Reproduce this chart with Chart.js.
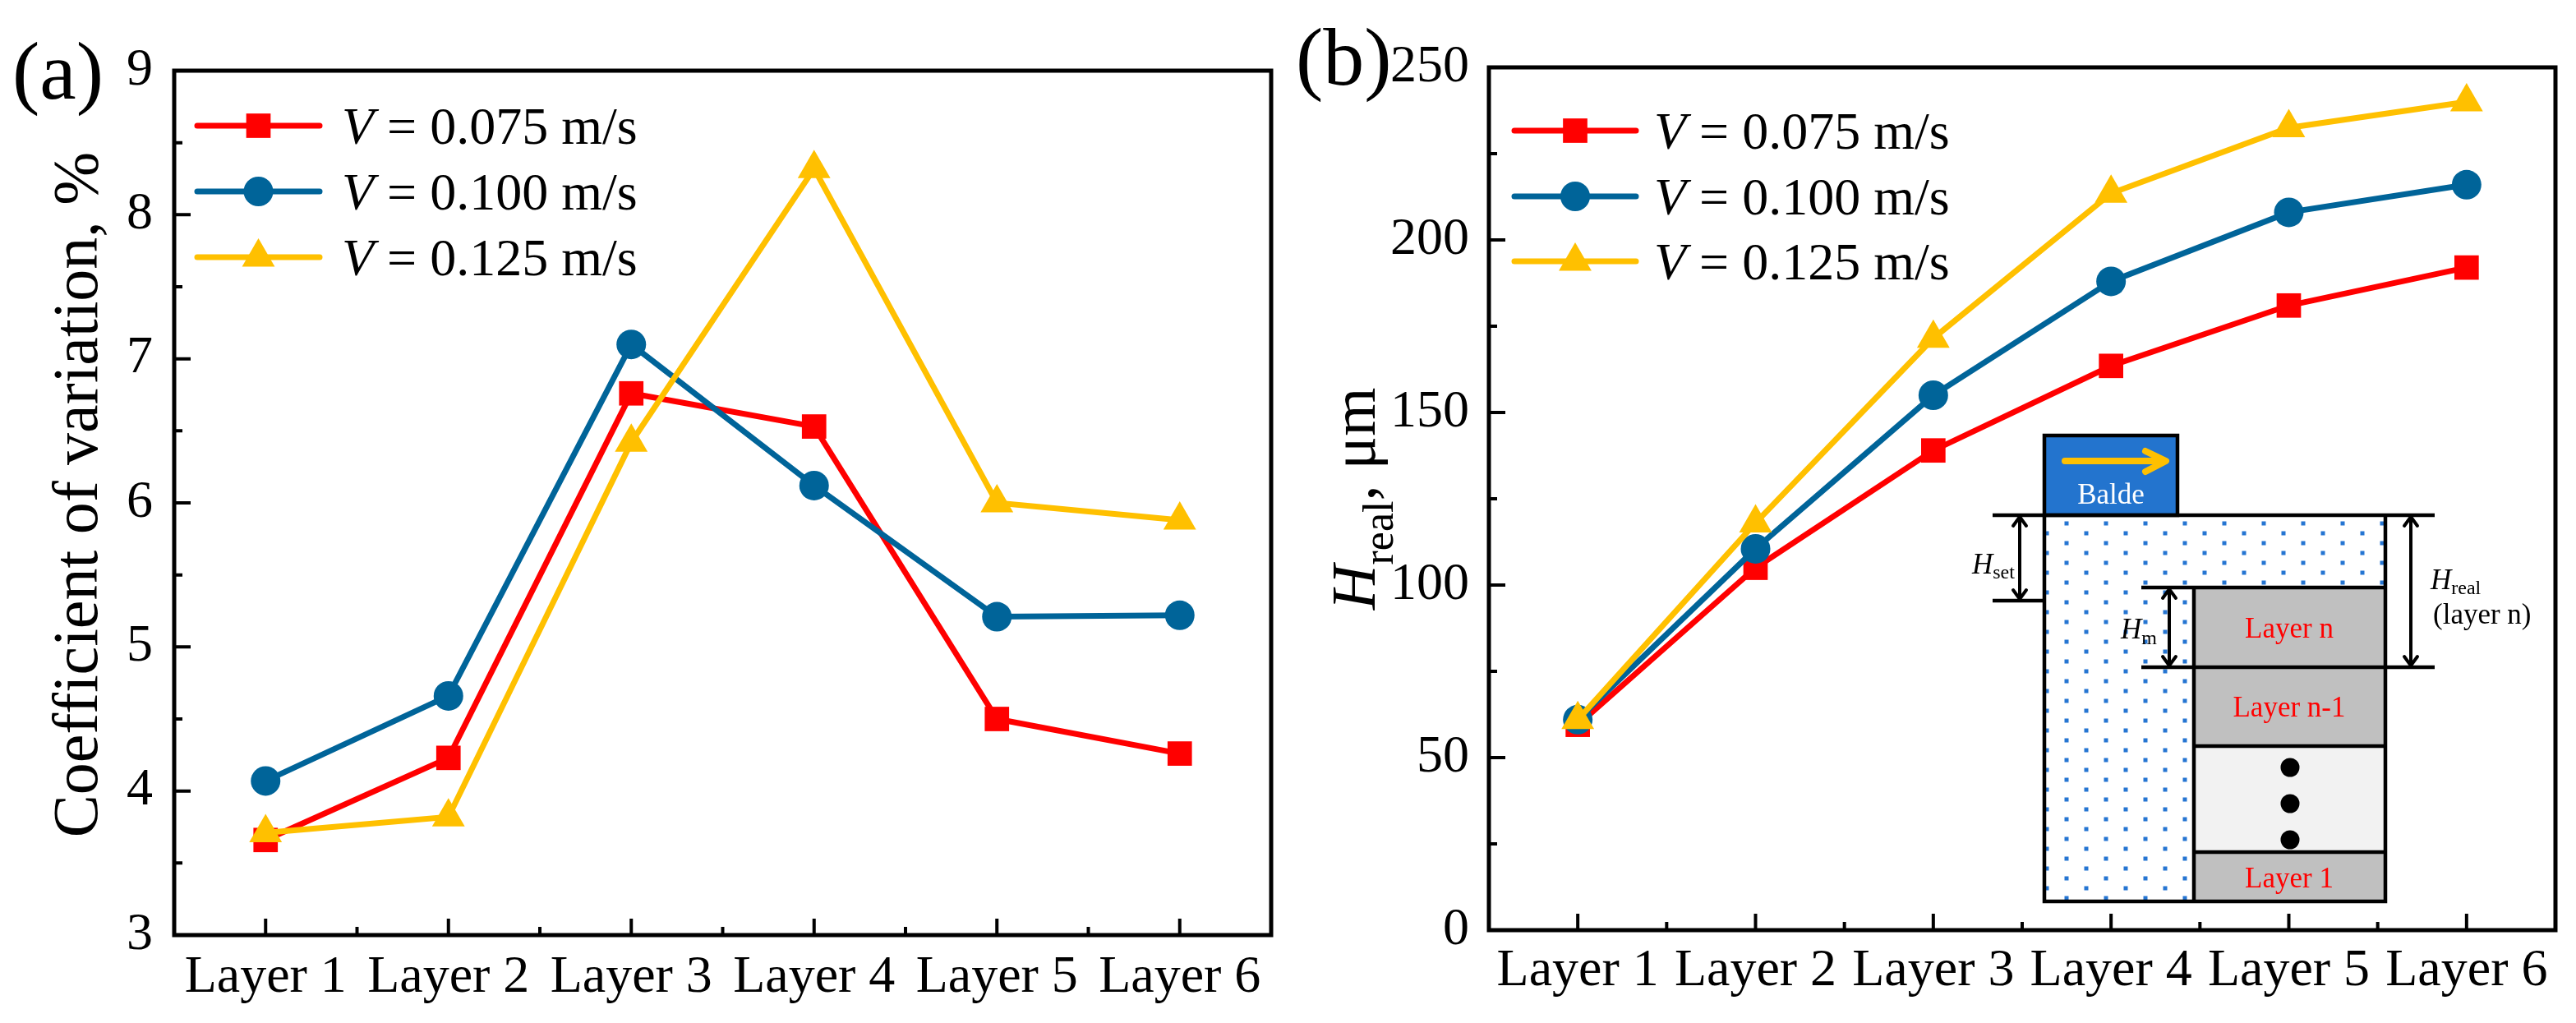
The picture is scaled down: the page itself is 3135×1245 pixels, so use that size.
<!DOCTYPE html>
<html>
<head>
<meta charset="utf-8">
<script src="https://cdn.jsdelivr.net/npm/chart.js@4.4.0/dist/chart.umd.min.js"></script>
<style>
  html, body { margin: 0; padding: 0; background: #fff; }
  #wrap { position: relative; width: 3135px; height: 1245px; }
  canvas { position: absolute; top: 0; }
</style>
</head>
<body>
<div id="wrap">
  <canvas id="cv" width="1570" height="1245" style="left:0"></canvas>
  <canvas id="hr" width="1565" height="1245" style="left:1570px"></canvas>
</div>
<script>
// ---- data ----
const layers = ['Layer 1', 'Layer 2', 'Layer 3', 'Layer 4', 'Layer 5', 'Layer 6'];
const speedNames = ['0.075', '0.100', '0.125'];

// (a) coefficient of variation, %
const cv075 = [3.66, 4.23, 6.76, 6.53, 4.50, 4.26];
const cv100 = [4.07, 4.66, 7.10, 6.12, 5.21, 5.22];
const cv125 = [3.71, 3.82, 6.42, 8.32, 6.00, 5.88];

// (b) H_real, um
const hr075 = [59.5, 105, 139, 163.5, 181, 192];
const hr100 = [61, 110.5, 155, 188, 208, 216];
const hr125 = [61, 118, 171.5, 213.5, 232.5, 240];

const RED = '#FF0000', BLUE = '#006499', YEL = '#FFC000';
const SERIF = "'Liberation Serif', 'Times New Roman', serif";

function marker(ctx, style, r, x, y) {
    ctx.beginPath();
    if (style === 'rect') {
	const s = Math.SQRT1_2 * r;
	ctx.rect(x - s, y - s, 2 * s, 2 * s);
    } else if (style === 'triangle') {
	let rad = 0;
	ctx.moveTo(x + Math.sin(rad) * r, y - Math.cos(rad) * r);
	rad += 2 * Math.PI / 3;
	ctx.lineTo(x + Math.sin(rad) * r, y - Math.cos(rad) * r);
	rad += 2 * Math.PI / 3;
	ctx.lineTo(x + Math.sin(rad) * r, y - Math.cos(rad) * r);
	ctx.closePath();
    } else {
	ctx.arc(x, y, r, 0, Math.PI * 2);
    }
    ctx.fill();
}

function makeSets(a, b, c)
{
    const sty = [['rect', 21, RED, 3], ['circle', 18, BLUE, 2], ['triangle', 23, YEL, 1]];
    return [a, b, c].map(function(d, i) {
	return {
	    label: 'V = ' + speedNames[i] + ' m/s',
	    data: d,
	    borderColor: sty[i][2],
	    backgroundColor: sty[i][2],
	    borderWidth: 7,
	    tension: 0,
	    pointStyle: sty[i][0],
	    pointRadius: sty[i][1],
	    pointBorderWidth: 0,
	    order: sty[i][3]
	};
    });
}

// frame, inward ticks, legend, labels
function frameTicks(chart, majorLen, minorLen)
{
    const ctx = chart.ctx, a = chart.chartArea;
    const xs = chart.scales.x, ys = chart.scales.y;
    ctx.save();
    ctx.strokeStyle = '#000';
    ctx.lineWidth = 4;
    ctx.beginPath();
    for (let i = 0; i < layers.length; i++) {
	const px = xs.getPixelForValue(i);
	ctx.moveTo(px, a.bottom); ctx.lineTo(px, a.bottom - majorLen);
	if (i < layers.length - 1) {
	    const pm = xs.getPixelForValue(i + 0.5);
	    ctx.moveTo(pm, a.bottom); ctx.lineTo(pm, a.bottom - minorLen);
	}
    }
    const t = ys.ticks;
    for (let i = 0; i < t.length; i++) {
	const py = ys.getPixelForValue(t[i].value);
	ctx.moveTo(a.left, py); ctx.lineTo(a.left + majorLen, py);
	if (i < t.length - 1) {
	    const pm = ys.getPixelForValue((t[i].value + t[i + 1].value) / 2);
	    ctx.moveTo(a.left, pm); ctx.lineTo(a.left + minorLen, pm);
	}
    }
    ctx.stroke();
    ctx.lineWidth = 5;
    ctx.strokeRect(a.left, a.top, a.right - a.left, a.bottom - a.top);
    ctx.restore();
}

function drawLegend(chart, x0, x1, rows, textX)
{
    const ctx = chart.ctx;
    ctx.save();
    chart.data.datasets.forEach(function(ds, i) {
	const y = rows[i];
	ctx.strokeStyle = ds.borderColor;
	ctx.lineWidth = 7;
	ctx.lineCap = 'round';
	ctx.beginPath(); ctx.moveTo(x0, y); ctx.lineTo(x1, y); ctx.stroke();
	ctx.fillStyle = ds.backgroundColor;
	marker(ctx, ds.pointStyle, ds.pointRadius, (x0 + x1) / 2, y);
	ctx.fillStyle = '#000';
	ctx.textBaseline = 'alphabetic';
	ctx.font = 'italic 64px ' + SERIF;
	ctx.fillText('V', textX, y + 22);
	const w = ctx.measureText('V').width;
	ctx.font = '64px ' + SERIF;
	ctx.fillText(' = ' + speedNames[i] + ' m/s', textX + w, y + 22);
    });
    ctx.restore();
}

function baseOptions(yMin, yMax, yStep, yWidth, xHeight, pad, yPad, xPad)
{
    return {
	responsive: false,
	animation: false,
	devicePixelRatio: 1,
	events: [],
	layout: { padding: pad },
	plugins: { legend: { display: false }, tooltip: { enabled: false } },
	scales: {
	    x: {
		type: 'category',
		offset: true,
		grid: { display: false, drawTicks: false },
		border: { display: false },
		ticks: { color: '#000', padding: xPad, maxRotation: 0, font: { family: SERIF, size: 64 } },
		afterFit: function(s) { s.height = xHeight; }
	    },
	    y: {
		min: yMin,
		max: yMax,
		grid: { display: false, drawTicks: false },
		border: { display: false },
		ticks: { stepSize: yStep, color: '#000', padding: yPad, font: { family: SERIF, size: 64 } },
		afterFit: function(s) { s.width = yWidth; }
	    }
	}
    };
}

// ---- (a) ----
const cvOpts = baseOptions(3, 9, 1, 212, 107, { left: 0, top: 86, right: 14, bottom: 0 }, 26, 14);
new Chart(document.getElementById('cv'), {
    type: 'line',
    data: { labels: layers, datasets: makeSets(cv075, cv100, cv125) },
    options: cvOpts,
    plugins: [{
	id: 'cvDeco',
	afterDraw: function(chart) {
	    const ctx = chart.ctx;
	    frameTicks(chart, 20, 10);
	    drawLegend(chart, 240, 389, [153, 233, 313], 416);
	    ctx.save();
	    ctx.fillStyle = '#000';
	    ctx.font = '100px ' + SERIF;
	    ctx.textBaseline = 'alphabetic';
	    ctx.fillText('(a)', 15, 120);
	    ctx.translate(118, 602);
	    ctx.rotate(-Math.PI / 2);
	    ctx.textAlign = 'center';
	    ctx.font = '78px ' + SERIF;
	    ctx.fillText('Coefficient of variation, %', 0, 0);
	    ctx.restore();
	}
    }]
});

// ---- (b) inset sketch ----
function arrow2(ctx, x, y0, y1)
{
    ctx.beginPath();
    ctx.moveTo(x, y0 + 2); ctx.lineTo(x, y1 - 2);
    ctx.moveTo(x - 8, y0 + 13); ctx.lineTo(x, y0 + 2); ctx.lineTo(x + 8, y0 + 13);
    ctx.moveTo(x - 8, y1 - 13); ctx.lineTo(x, y1 - 2); ctx.lineTo(x + 8, y1 - 13);
    ctx.stroke();
}

function subLabel(ctx, main, sub, x, y, dy)
{
    ctx.font = 'italic 35px ' + SERIF;
    ctx.fillText(main, x, y);
    const w = ctx.measureText(main).width;
    ctx.font = '24px ' + SERIF;
    ctx.fillText(sub, x + w, y + dy);
}

function drawInset(ctx)
{
    ctx.save();
    // powder bed
    ctx.fillStyle = '#fff';
    ctx.fillRect(918, 627, 415, 470);
    ctx.save();
    ctx.beginPath(); ctx.rect(918, 627, 415, 470); ctx.clip();
    ctx.fillStyle = '#2575D2';
    for (let r = 0; 637 + r * 12 < 1100; r++) {
	const y = 637 + r * 12;
	const xs0 = (r % 2 === 0) ? 897 : 921;
	for (let x = xs0; x < 1340; x += 48)
	    ctx.fillRect(x - 2.5, y - 2.5, 5, 5);
    }
    ctx.restore();
    // layers
    ctx.fillStyle = '#C0C0C0';
    ctx.fillRect(1100, 715, 233, 193);
    ctx.fillRect(1100, 1037, 233, 60);
    ctx.fillStyle = '#F2F2F2';
    ctx.fillRect(1100, 908, 233, 129);
    ctx.fillStyle = '#000';
    [934, 978, 1022].forEach(function(y) {
	ctx.beginPath(); ctx.arc(1217, y, 11.5, 0, Math.PI * 2); ctx.fill();
    });
    ctx.fillStyle = RED;
    ctx.font = '35px ' + SERIF;
    ctx.textAlign = 'center';
    ctx.fillText('Layer n', 1216, 776);
    ctx.fillText('Layer n-1', 1216, 872);
    ctx.fillText('Layer 1', 1216, 1080);
    // blade
    ctx.fillStyle = '#2374CE';
    ctx.fillRect(918, 530, 162, 97);
    ctx.fillStyle = '#fff';
    ctx.fillText('Balde', 999, 613);
    ctx.textAlign = 'left';
    // outlines
    ctx.strokeStyle = '#000';
    ctx.lineWidth = 4.5;
    ctx.strokeRect(918, 530, 162, 97);
    ctx.beginPath();
    ctx.moveTo(855, 627); ctx.lineTo(1393, 627);
    ctx.moveTo(918, 627); ctx.lineTo(918, 1097); ctx.lineTo(1333, 1097); ctx.lineTo(1333, 627);
    ctx.moveTo(1100, 715); ctx.lineTo(1100, 1097);
    ctx.moveTo(1036, 715); ctx.lineTo(1333, 715);
    ctx.moveTo(1036, 812); ctx.lineTo(1393, 812);
    ctx.moveTo(1100, 908); ctx.lineTo(1333, 908);
    ctx.moveTo(1100, 1037); ctx.lineTo(1333, 1037);
    ctx.moveTo(855, 731); ctx.lineTo(918, 731);
    ctx.stroke();
    // dimension arrows
    ctx.lineWidth = 4;
    ctx.lineCap = 'round';
    ctx.lineJoin = 'round';
    arrow2(ctx, 888, 627, 731);
    arrow2(ctx, 1070, 715, 812);
    arrow2(ctx, 1364, 627, 812);
    // blade direction arrow
    ctx.strokeStyle = YEL;
    ctx.lineWidth = 8;
    ctx.beginPath();
    ctx.moveTo(943, 561); ctx.lineTo(1064, 561);
    ctx.moveTo(1041, 549); ctx.lineTo(1066, 561); ctx.lineTo(1041, 574);
    ctx.stroke();
    // labels
    ctx.fillStyle = '#000';
    subLabel(ctx, 'H', 'set', 830, 698, 6);
    subLabel(ctx, 'H', 'm', 1011, 777, 7);
    subLabel(ctx, 'H', 'real', 1388, 717, 6);
    ctx.font = '35px ' + SERIF;
    ctx.fillText('(layer n)', 1391, 759);
    ctx.restore();
}

// ---- (b) ----
const hrOpts = baseOptions(0, 250, 50, 242, 113, { left: 0, top: 82, right: 25, bottom: 0 }, 24, 12);
new Chart(document.getElementById('hr'), {
    type: 'line',
    data: { labels: layers, datasets: makeSets(hr075, hr100, hr125) },
    options: hrOpts,
    plugins: [{
	id: 'hrDeco',
	beforeDatasetsDraw: function(chart) {
	    drawInset(chart.ctx);
	},
	afterDraw: function(chart) {
	    const ctx = chart.ctx, a = chart.chartArea;
	    frameTicks(chart, 20, 10);
	    drawLegend(chart, 273, 421, [159, 239, 318], 443);
	    ctx.save();
	    ctx.fillStyle = '#000';
	    ctx.textBaseline = 'alphabetic';
	    ctx.font = '100px ' + SERIF;
	    ctx.fillText('(b)', 7, 103);
	    // rotated y title: H_real, um
	    ctx.font = 'italic 76px ' + SERIF;
	    const wH = ctx.measureText('H').width;
	    ctx.font = '52px ' + SERIF;
	    const wS = ctx.measureText('real').width;
	    ctx.font = '76px ' + SERIF;
	    const wU = ctx.measureText(', \u03bcm').width;
	    const total = wH + wS + wU;
	    ctx.translate(103, (a.top + a.bottom) / 2);
	    ctx.rotate(-Math.PI / 2);
	    let x = -total / 2;
	    ctx.font = 'italic 76px ' + SERIF;
	    ctx.fillText('H', x, 0);
	    x += wH;
	    ctx.font = '52px ' + SERIF;
	    ctx.fillText('real', x, 22);
	    x += wS;
	    ctx.font = '76px ' + SERIF;
	    ctx.fillText(', \u03bcm', x, 0);
	    ctx.restore();
	}
    }]
});
</script>
</body>
</html>
